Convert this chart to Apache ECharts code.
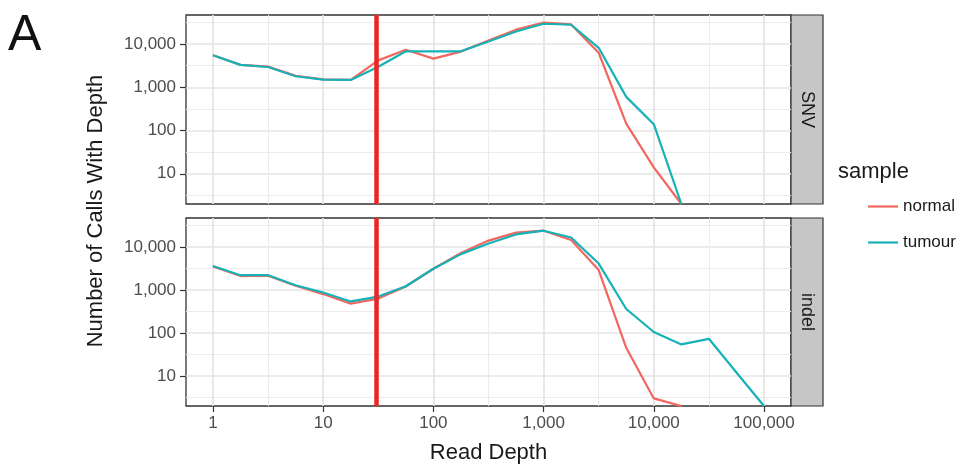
<!DOCTYPE html>
<html>
<head>
<meta charset="utf-8">
<script src="https://cdn.jsdelivr.net/npm/echarts@6/dist/echarts.min.js"></script>
<style>
html,body{margin:0;padding:0;background:#fff;}
#chart{width:965px;height:470px;}
</style>
</head>
<body>
<div id="chart"></div>
<script>
// ---- data ----
const depthBins = [1, 1.778, 3.162, 5.623, 10, 17.78, 31.62, 56.23, 100, 177.8, 316.2, 562.3, 1000, 1778, 3162, 5623, 10000, 17783, 31623, 56234, 100000];
const snvNormal   = [5500, 3300, 3000, 1850, 1520, 1480, 4200, 7400, 4600, 6700, 12000, 21500, 31500, 28500, 6300, 145, 14, 2];
const snvTumour   = [5500, 3300, 2950, 1800, 1500, 1480, 3000, 6800, 6800, 6800, 11500, 19500, 29500, 28000, 8200, 600, 140, 2];
const indelNormal = [3500, 2100, 2150, 1250, 800, 480, 630, 1200, 3100, 7200, 14000, 21500, 23800, 14500, 2900, 45, 3, 2];
const indelTumour = [3600, 2200, 2200, 1280, 870, 540, 700, 1220, 3100, 6800, 12000, 19500, 23800, 16500, 4100, 360, 105, 54, 73, 12, 2];
const depthThreshold = 30;
const panels = ['SNV', 'indel'];
const sampleNames = ['normal', 'tumour'];
const xMajorTicks = [1, 10, 100, 1000, 10000, 100000];
const xMinorTicks = [3.162, 31.62, 316.2, 3162, 31623];
const yMajorTicks = [10, 100, 1000, 10000];
const yMinorTicks = [3.162, 31.62, 316.2, 3162, 31623];

const FONT = 'Liberation Sans';
const COLORS = {normal: '#F2675F', tumour: '#16B2B7'};

function pairs(vals) {
  const out = [];
  vals.forEach((v, i) => { if (v != null) out.push([depthBins[i], v]); });
  return out;
}
function fmt(v) {
  return String(Math.round(v)).replace(/\B(?=(\d{3})+(?!\d))/g, ',');
}

const grids = [
  {left: 186, top: 15, width: 605, height: 189},
  {left: 186, top: 218, width: 605, height: 188}
];

const xAxes = [], yAxes = [];
grids.forEach((g, gi) => {
  const isBottom = gi === 1;
  xAxes.push({
    gridIndex: gi, type: 'log', logBase: 10, min: 0.569, max: 175800, position: 'bottom',
    axisLine: {show: false},
    axisTick: {show: isBottom, length: 6, customValues: xMajorTicks, lineStyle: {color: '#333', width: 1.2}},
    axisLabel: {show: isBottom, customValues: xMajorTicks, formatter: fmt, fontSize: 17, fontFamily: FONT, color: '#4d4d4d', margin: 9},
    splitLine: {show: true, lineStyle: {color: '#e4e4e4', width: 1.7}},
    name: isBottom ? 'Read Depth' : '', nameLocation: 'middle', nameGap: 36,
    nameTextStyle: {fontSize: 22, fontFamily: FONT, color: '#1a1a1a'}
  });
  xAxes.push({
    gridIndex: gi, type: 'log', logBase: 10, min: 0.569, max: 175800, position: 'top',
    axisLine: {show: false},
    axisTick: {show: false, customValues: xMinorTicks},
    axisLabel: {show: false, customValues: xMinorTicks},
    splitLine: {show: true, lineStyle: {color: '#ececec', width: 1}}
  });
  yAxes.push({
    gridIndex: gi, type: 'log', logBase: 10, min: 2, max: 47000, position: 'left',
    axisLine: {show: false},
    axisTick: {show: true, length: 6, customValues: yMajorTicks, lineStyle: {color: '#333', width: 1.2}},
    axisLabel: {show: true, customValues: yMajorTicks, formatter: fmt, fontSize: 17, fontFamily: FONT, color: '#4d4d4d', margin: 10},
    splitLine: {show: true, lineStyle: {color: '#e4e4e4', width: 1.7}}
  });
  yAxes.push({
    gridIndex: gi, type: 'log', logBase: 10, min: 2, max: 47000, position: 'right',
    axisLine: {show: false},
    axisTick: {show: false, customValues: yMinorTicks},
    axisLabel: {show: false, customValues: yMinorTicks},
    splitLine: {show: true, lineStyle: {color: '#ececec', width: 1}}
  });
});

const panelData = [
  {normal: snvNormal, tumour: snvTumour},
  {normal: indelNormal, tumour: indelTumour}
];

const series = [];
panelData.forEach((pd, gi) => {
  sampleNames.forEach(name => {
    series.push({
      name: name, type: 'line', xAxisIndex: gi * 2, yAxisIndex: gi * 2,
      data: pairs(pd[name]), symbol: 'none', showSymbol: false,
      lineStyle: {color: COLORS[name], width: 2.2}, itemStyle: {color: COLORS[name]},
      z: 2, clip: true
    });
  });
  series.push({
    name: 'threshold', type: 'line', xAxisIndex: gi * 2, yAxisIndex: gi * 2,
    data: [], z: 5,
    markLine: {
      silent: true, symbol: ['none', 'none'], label: {show: false},
      lineStyle: {color: '#EE2424', width: 4.5, type: 'solid'},
      emphasis: {disabled: true},
      data: [{xAxis: depthThreshold}]
    }
  });
});

const graphic = [
  {type: 'text', left: 8, top: 11, style: {text: 'A', fontSize: 50, fontFamily: FONT, fill: '#111'}},
  {type: 'text', x: 96, y: 211, rotation: Math.PI / 2,
   style: {text: 'Number of Calls With Depth', fontSize: 22, fontFamily: FONT, fill: '#1a1a1a', align: 'center', verticalAlign: 'middle'}},
  {type: 'text', x: 838, y: 172, style: {text: 'sample', fontSize: 22, fontFamily: FONT, fill: '#1a1a1a', align: 'left', verticalAlign: 'middle'}}
];
grids.forEach((g, gi) => {
  graphic.push({type: 'rect', shape: {x: g.left + g.width, y: g.top, width: 32, height: g.height},
    style: {fill: '#c6c6c6', stroke: '#333', lineWidth: 1.2}});
  graphic.push({type: 'text', x: g.left + g.width + 16, y: g.top + g.height / 2, rotation: -Math.PI / 2,
    style: {text: panels[gi], fontSize: 18, fontFamily: FONT, fill: '#1a1a1a', align: 'center', verticalAlign: 'middle'}});
});

const chart = echarts.init(document.getElementById('chart'), null, {renderer: 'canvas'});
chart.setOption({
  animation: false,
  backgroundColor: '#fff',
  grid: grids.map(g => Object.assign({show: true, borderColor: '#333', borderWidth: 1.3, backgroundColor: '#fff', containLabel: false}, g)),
  xAxis: xAxes,
  yAxis: yAxes,
  legend: {
    data: sampleNames.map(n => ({name: n, icon: 'rect', itemStyle: {color: COLORS[n]}})),
    orient: 'vertical', left: 863, top: 193,
    itemWidth: 30, itemHeight: 2.2, itemGap: 19,
    textStyle: {fontSize: 17, fontFamily: FONT, color: '#1a1a1a'}
  },
  series: series,
  graphic: graphic
});
</script>
</body>
</html>
